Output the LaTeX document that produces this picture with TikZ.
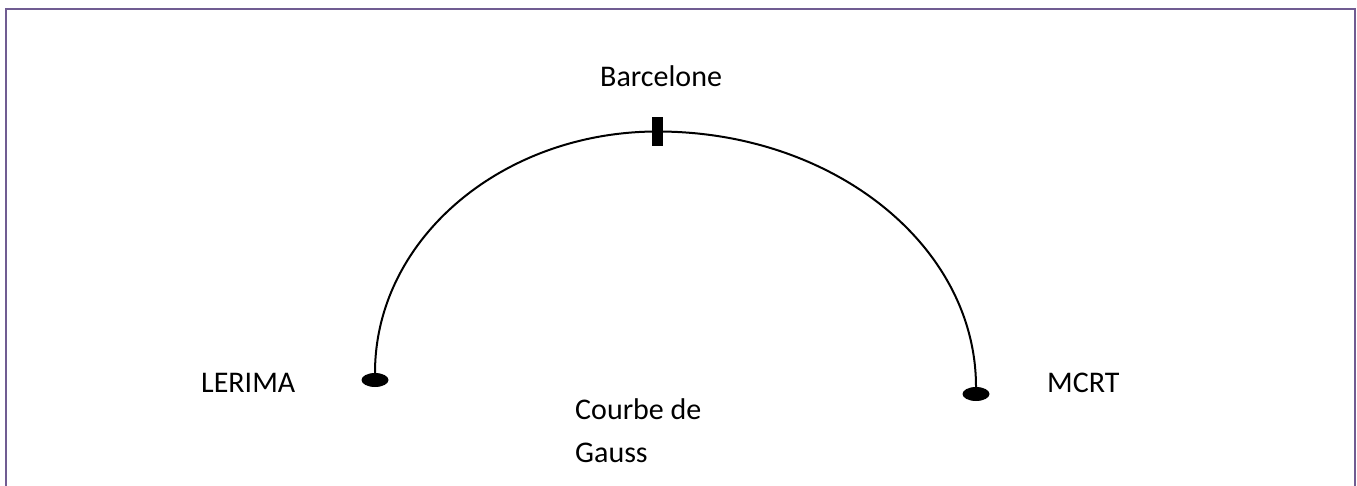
\documentclass[tikz,border=0pt]{standalone}
\usepackage{fontspec}
\setmainfont{Carlito}
\usetikzlibrary{shapes.geometric}
\definecolor{framecol}{RGB}{112,92,146}
\tikzset{
  endpt/.style={ellipse,fill=black,draw=none,inner sep=0pt,minimum width=27pt,minimum height=14pt},
  marker/.style={rectangle,fill=black,draw=none,inner sep=0pt,minimum width=11pt,minimum height=29pt},
  lbl/.style={anchor=base west,inner sep=0pt,font=\fontsize{30}{36}\selectfont},
  curve/.style={draw=black,line width=2pt},
  frameline/.style={draw=framecol,line width=2.2pt}
}
\begin{document}
\begin{tikzpicture}[x=1pt,y=-1pt]
\useasboundingbox (0,0) rectangle (1357,486);
\fill[white] (0,0) rectangle (1357,486);
% frame (open at the bottom)
\coordinate (fbl) at (6,486);
\coordinate (ftl) at (6,9);
\coordinate (ftr) at (1355,9);
\coordinate (fbr) at (1355,486);
\draw[frameline] (fbl) -- (ftl) -- (ftr) -- (fbr);
% end points and marker
\node[endpt] (lerima) at (375,380) {};
\node[endpt] (mcrt) at (976,394) {};
% curve
\node[marker] (barc) at (657.5,131.5) {};
\draw[curve] (lerima.north) .. controls +(0,-134) and +(-155,0) .. (barc.center)
   .. controls +(176,0) and +(0,-141) .. (mcrt.north);
\node[marker] at (barc.center) {};
% labels
\node[lbl] (tbarc) at (600,87) {Barcelone};
\node[lbl] (tlerima) at (201,392) {LERIMA};
\node[lbl] (tmcrt) at (1047,392) {MCRT};
\node[lbl] (tcourbe) at (575,419) {Courbe de};
\node[lbl] (tgauss) at (575,462) {Gauss};
\end{tikzpicture}
\end{document}
